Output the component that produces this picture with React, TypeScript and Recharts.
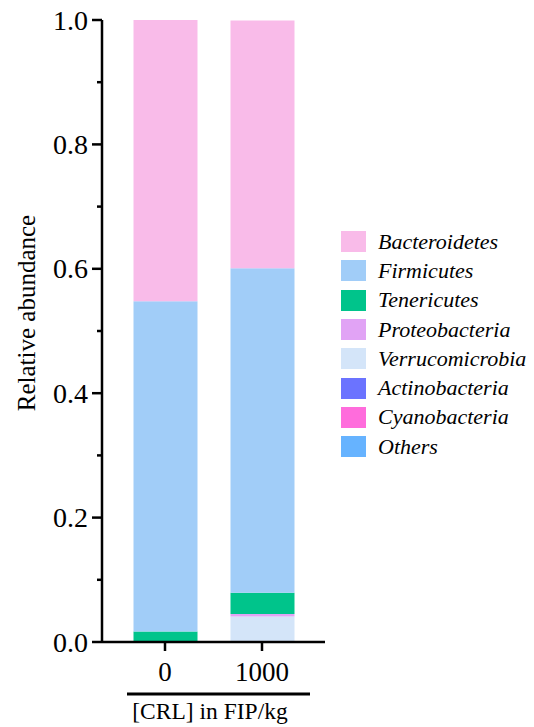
import React from 'react';
import { BarChart, Bar, XAxis, YAxis, Legend } from 'recharts';

// Categories (x axis)
const categories = ['0', '1000'];
// Series, stacked bottom -> top
const seriesNames = [
  'Others',
  'Cyanobacteria',
  'Actinobacteria',
  'Verrucomicrobia',
  'Proteobacteria',
  'Tenericutes',
  'Firmicutes',
  'Bacteroidetes',
];
const seriesColors = [
  '#66B3FF',
  '#FF6CDC',
  '#6B73FF',
  '#D4E5F9',
  '#E1A3F5',
  '#00C48B',
  '#A1CDF8',
  '#F9BBE9',
];
// Values per series (per category)
const others = [0, 0];
const cyanobacteria = [0, 0];
const actinobacteria = [0, 0];
const verrucomicrobia = [0, 0.041];
const proteobacteria = [0, 0.004];
const tenericutes = [0.017, 0.034];
const firmicutes = [0.531, 0.522];
const bacteroidetes = [0.452, 0.398];
const seriesValues = [
  others,
  cyanobacteria,
  actinobacteria,
  verrucomicrobia,
  proteobacteria,
  tenericutes,
  firmicutes,
  bacteroidetes,
];
// Y axis ticks
const yTicks = [0, 0.1, 0.2, 0.3, 0.4, 0.5, 0.6, 0.7, 0.8, 0.9, 1.0];
const yMajorLabels: Record<string, string> = {
  '0': '0.0',
  '0.2': '0.2',
  '0.4': '0.4',
  '0.6': '0.6',
  '0.8': '0.8',
  '1': '1.0',
};
const yAxisTitle = 'Relative abundance';
const xAxisTitle = '[CRL] in FIP/kg';

const FONT = '"Liberation Serif", "Times New Roman", Times, serif';

const data = categories.map((c, i) => {
  const row: Record<string, any> = { category: c };
  seriesNames.forEach((s, j) => {
    row[s] = seriesValues[j][i];
  });
  return row;
});

const YTick = (props: any) => {
  const { x, y, payload } = props;
  const key = String(payload.value);
  const label = yMajorLabels[key];
  const major = label !== undefined;
  return (
    <g>
      <line x1={x - (major ? 10 : 5)} x2={x} y1={y} y2={y} stroke="#000" strokeWidth={2.5} />
      {major && (
        <text
          x={x - 14}
          y={y}
          dy="0.34em"
          textAnchor="end"
          fontFamily={FONT}
          fontSize={28}
          fill="#000"
        >
          {label}
        </text>
      )}
    </g>
  );
};

const LegendContent = () => {
  const items = seriesNames.map((n, i) => ({ n, c: seriesColors[i] })).reverse();
  return (
    <div style={{ fontFamily: FONT }}>
      {items.map((it) => (
        <div
          key={it.n}
          style={{ display: 'flex', alignItems: 'center', height: 29.3 }}
        >
          <div style={{ width: 25, height: 21, background: it.c, marginRight: 12 }} />
          <span style={{ fontStyle: 'italic', fontSize: 22, color: '#000', lineHeight: '22px' }}>{it.n}</span>
        </div>
      ))}
    </div>
  );
};

export default function App() {
  return (
    <div style={{ position: 'absolute', left: 0, top: 0, width: 534, height: 727 }}>
      <BarChart
        width={534}
        height={727}
        data={data}
        margin={{ top: 20, right: 209, bottom: 45, left: 42 }}
      >
        <XAxis
          dataKey="category"
          padding={{ left: 14.5, right: 14.5 }}
          axisLine={{ stroke: '#000', strokeWidth: 2.5 }}
          tickLine={{ stroke: '#000', strokeWidth: 2.5 }}
          tickSize={9}
          tickMargin={11}
          height={40}
          tick={{ fontFamily: FONT, fontSize: 27, fill: '#000' }}
        />
        <YAxis
          domain={[0, 1]}
          ticks={yTicks}
          interval={0}
          width={60}
          axisLine={{ stroke: '#000', strokeWidth: 2.5 }}
          tickLine={false}
          tickSize={0}
          tickMargin={0}
          tick={<YTick />}
        />
        <Legend
          layout="vertical"
          align="center"
          verticalAlign="middle"
          wrapperStyle={{ left: 341, top: 227, width: 193 }}
          content={<LegendContent />}
        />
        {seriesNames.map((s, i) => (
          <Bar
            key={s}
            dataKey={s}
            stackId="a"
            fill={seriesColors[i]}
            barSize={64}
            isAnimationActive={false}
          />
        ))}
      </BarChart>
      <svg
        width={534}
        height={727}
        style={{ position: 'absolute', left: 0, top: 0, pointerEvents: 'none' }}
      >
        <text
          x={35}
          y={313}
          transform="rotate(-90, 35, 313)"
          textAnchor="middle"
          fontFamily={FONT}
          fontSize={25}
          fill="#000"
        >
          {yAxisTitle}
        </text>
        <line x1={127} x2={310} y1={694} y2={694} stroke="#000" strokeWidth={3} />
        <text
          x={210}
          y={719}
          textAnchor="middle"
          fontFamily={FONT}
          fontSize={23.5}
          fill="#000"
        >
          {xAxisTitle}
        </text>
      </svg>
    </div>
  );
}
